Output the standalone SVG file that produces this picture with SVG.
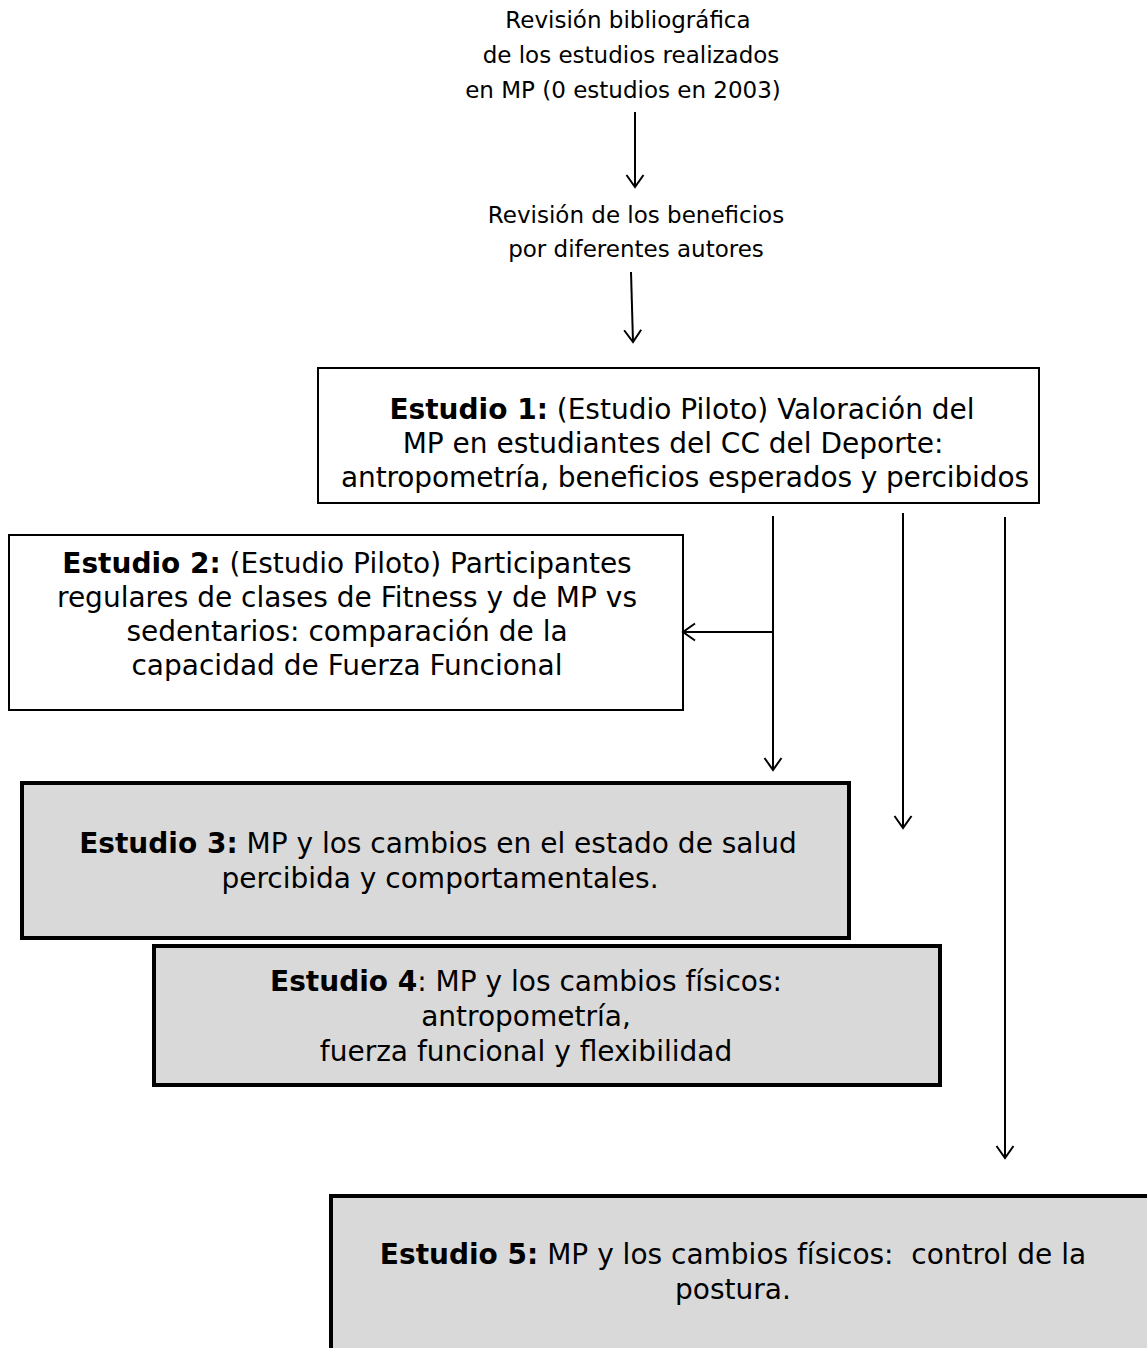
<svg xmlns="http://www.w3.org/2000/svg" width="1147" height="1348" viewBox="0 0 1147 1348">
<defs>
<marker id="ah" markerUnits="userSpaceOnUse" markerWidth="26" markerHeight="26" viewBox="-13 -13 26 26" refX="0" refY="0" orient="auto">
<path d="M-12,-8.5 L0,0 L-12,8.5" fill="none" stroke="#000" stroke-width="2"/>
</marker>
</defs>
<style>
.t{font-family:"DejaVu Sans","Verdana",sans-serif;fill:#000;text-anchor:middle}
.s{font-size:23px}
.b{font-size:28px}
.bold{font-weight:bold}
.box{fill:#fff;stroke:#000;stroke-width:2}
.gbox{fill:#d9d9d9;stroke:#000;stroke-width:4}
.ca{fill:none;stroke:#000;stroke-width:2;marker-end:url(#ah)}
</style>
<rect width="1147" height="1348" fill="#fff"/>
<g id="n0">
<text class="t s" x="628" y="28">Revisión bibliográfica</text>
<text class="t s" x="631" y="63">de los estudios realizados</text>
<text class="t s" x="623" y="98">en MP (0 estudios en 2003)</text>
</g>
<g id="n1">
<text class="t s" x="636" y="223">Revisión de los beneficios</text>
<text class="t s" x="636" y="257">por diferentes autores</text>
</g>
<g id="n2">
<rect class="box" x="318" y="368" width="721" height="135"/>
<text class="t b" x="682" y="419"><tspan class="bold">Estudio 1:</tspan> (Estudio Piloto) Valoración del</text>
<text class="t b" x="673" y="453">MP en estudiantes del CC del Deporte:</text>
<text class="t b" x="685" y="487" textLength="688">antropometría, beneficios esperados y percibidos</text>
</g>
<g id="n3">
<rect class="box" x="9" y="535" width="674" height="175"/>
<text class="t b" x="347" y="573"><tspan class="bold">Estudio 2:</tspan> (Estudio Piloto) Participantes</text>
<text class="t b" x="347" y="607">regulares de clases de Fitness y de MP vs</text>
<text class="t b" x="347" y="641">sedentarios: comparación de la</text>
<text class="t b" x="347" y="675">capacidad de Fuerza Funcional</text>
</g>
<g id="n4">
<rect class="gbox" x="22" y="783" width="827" height="155"/>
<text class="t b" x="438" y="853"><tspan class="bold">Estudio 3:</tspan> MP y los cambios en el estado de salud</text>
<text class="t b" x="440" y="888">percibida y comportamentales.</text>
</g>
<g id="n5">
<rect class="gbox" x="154" y="946" width="786" height="139"/>
<text class="t b" x="526" y="991"><tspan class="bold">Estudio 4</tspan>: MP y los cambios físicos:</text>
<text class="t b" x="526" y="1026">antropometría,</text>
<text class="t b" x="526" y="1061">fuerza funcional y flexibilidad</text>
</g>
<g id="n6">
<rect class="gbox" x="331" y="1196" width="830" height="170"/>
<text class="t b" x="733" y="1264"><tspan class="bold">Estudio 5:</tspan> MP y los cambios físicos:&#160; control de la</text>
<text class="t b" x="733" y="1299">postura.</text>
</g>
<g id="connectors">
<line class="ca" x1="635" y1="112" x2="635" y2="187"/>
<line class="ca" x1="631" y1="272" x2="633" y2="342"/>
<line class="ca" x1="773" y1="516" x2="773" y2="770"/>
<line class="ca" x1="773" y1="632" x2="683" y2="632"/>
<line class="ca" x1="903" y1="513" x2="903" y2="828"/>
<line class="ca" x1="1005" y1="517" x2="1005" y2="1158"/>
</g>
</svg>
